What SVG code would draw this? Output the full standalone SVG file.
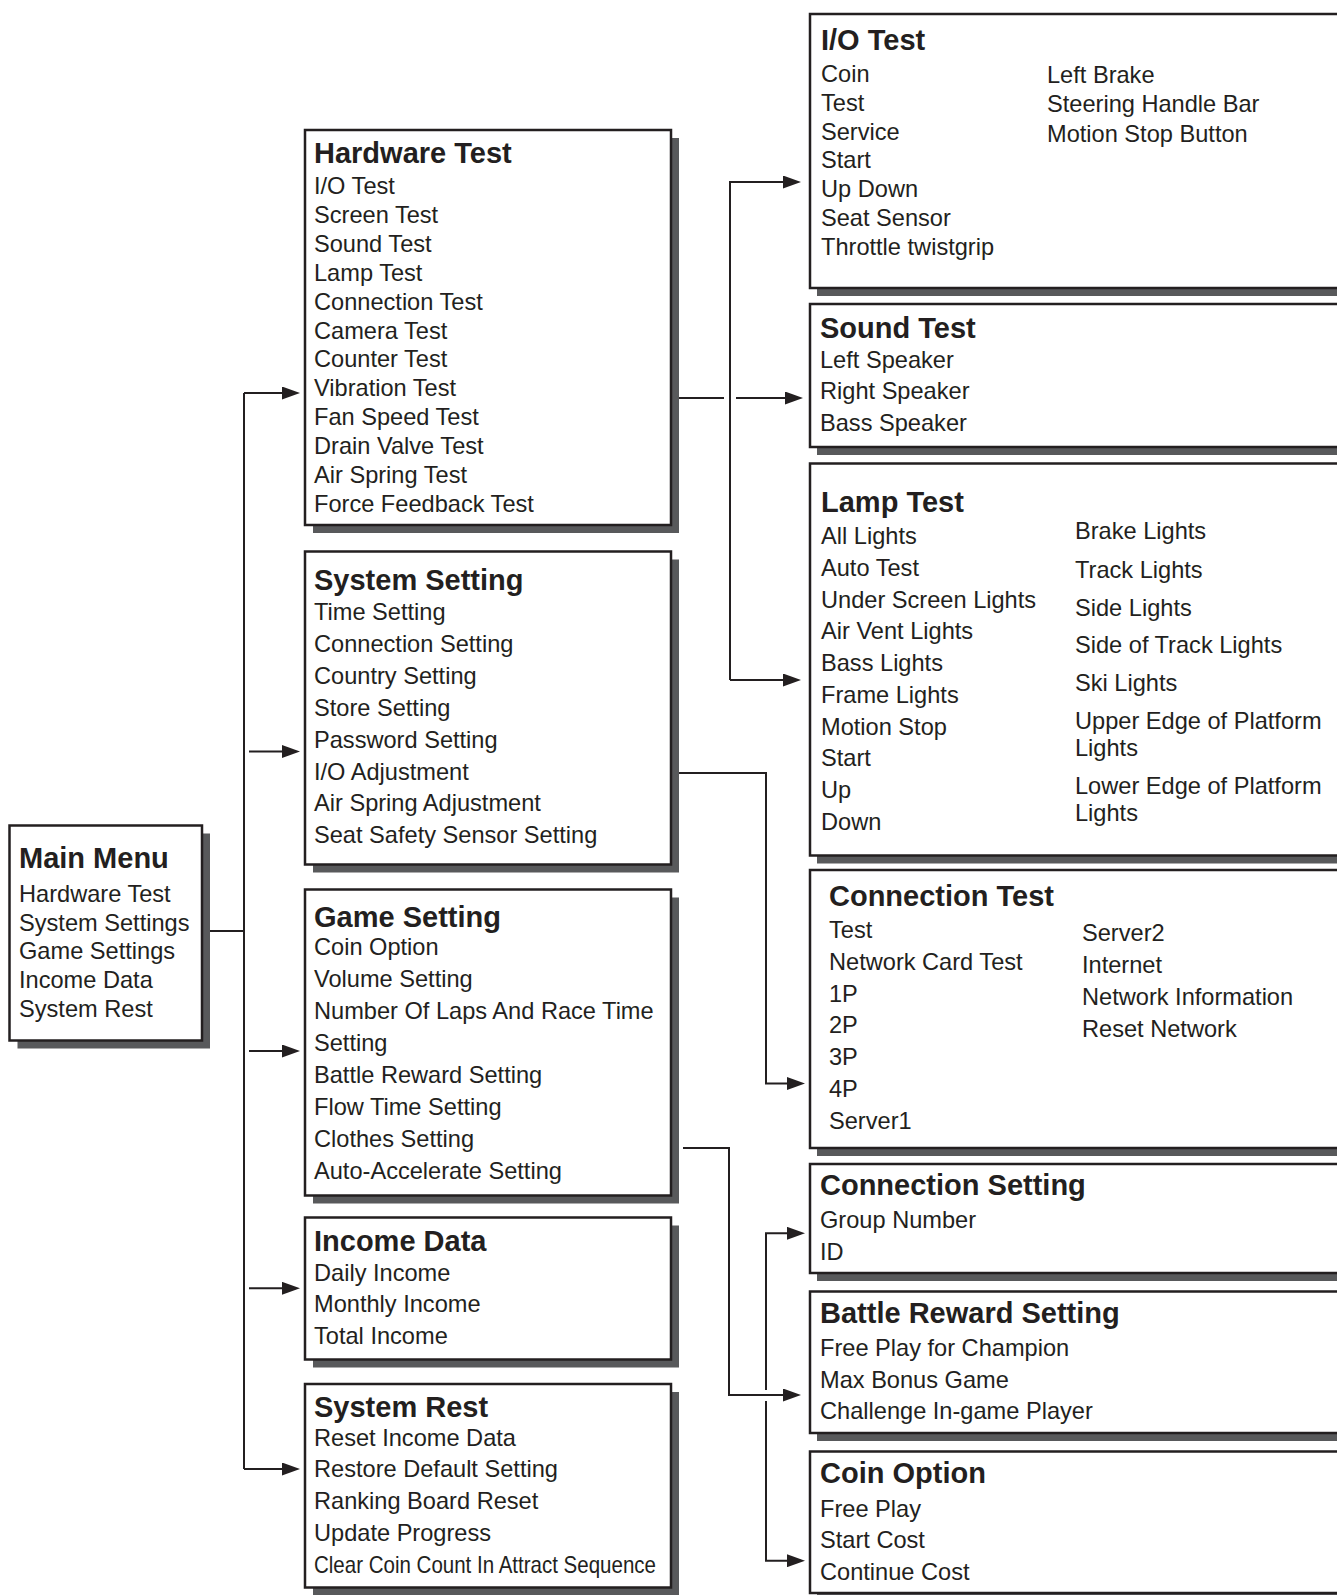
<svg xmlns="http://www.w3.org/2000/svg" width="1337" height="1595" viewBox="0 0 1337 1595">
<style>
.sh{fill:#58595b;stroke:none}
.bx{fill:#fff;stroke:#231f20;stroke-width:2.5}
.t{font-family:"Liberation Sans",Arial,sans-serif;font-size:29px;font-weight:bold;fill:#231f20}
.i{font-family:"Liberation Sans",Arial,sans-serif;font-size:23.6px;fill:#231f20}
.c{fill:none;stroke:#231f20;stroke-width:2}
.a{fill:none;stroke:#231f20;stroke-width:2;marker-end:url(#ah)}
</style>
<defs>
<marker id="ah" markerUnits="userSpaceOnUse" markerWidth="18" markerHeight="13" viewBox="0 0 18 13" refX="14" refY="6.5" orient="auto">
<path d="M0,0 L18,6.5 L0,13 z" fill="#231f20"/>
</marker>
</defs>
<rect width="1337" height="1595" fill="#fff"/>

<g id="connectors">
<path class="c" d="M202,931 H244"/>
<path class="c" d="M244,393 V1469"/>
<path class="a" d="M244,393 H296"/>
<path class="a" d="M249,751.5 H296"/>
<path class="a" d="M249,1051 H296"/>
<path class="a" d="M249,1288.3 H296"/>
<path class="a" d="M244,1469 H296"/>
<path class="c" d="M678,398 H724"/>
<path class="a" d="M736,398 H799"/>
<path class="a" d="M730,680 V182 H797"/>
<path class="a" d="M730,680 H797"/>
<path class="a" d="M670,773 H766 V1083.5 H801"/>
<circle cx="680" cy="1148" r="2.5" fill="#fff"/>
<path class="a" d="M683,1148 H729 V1395 H797"/>
<path class="a" d="M766,1390 V1233.3 H801"/>
<path class="a" d="M766,1401 V1560.7 H801"/>
</g>

<g id="main-menu">
<rect class="sh" x="17.5" y="833.5" width="192.5" height="215"/>
<rect class="bx" x="9.5" y="825.5" width="192.5" height="215"/>
<text class="t" x="19" y="868">Main Menu</text>
<text class="i" x="19" y="901.5">Hardware Test</text>
<text class="i" x="19" y="930.5">System Settings</text>
<text class="i" x="19" y="959">Game Settings</text>
<text class="i" x="19" y="988">Income Data</text>
<text class="i" x="19" y="1016.5">System Rest</text>
</g>

<g id="hardware-test">
<rect class="sh" x="313" y="138" width="366" height="395"/>
<rect class="bx" x="305" y="130" width="366" height="395"/>
<text class="t" x="314" y="162.5">Hardware Test</text>
<text class="i" x="314" y="194.3">I/O Test</text>
<text class="i" x="314" y="223.2">Screen Test</text>
<text class="i" x="314" y="252">Sound Test</text>
<text class="i" x="314" y="280.9">Lamp Test</text>
<text class="i" x="314" y="309.7">Connection Test</text>
<text class="i" x="314" y="338.6">Camera Test</text>
<text class="i" x="314" y="367.4">Counter Test</text>
<text class="i" x="314" y="396.3">Vibration Test</text>
<text class="i" x="314" y="425.1">Fan Speed Test</text>
<text class="i" x="314" y="454">Drain Valve Test</text>
<text class="i" x="314" y="482.8">Air Spring Test</text>
<text class="i" x="314" y="511.7">Force Feedback Test</text>
</g>

<g id="system-setting">
<rect class="sh" x="313" y="559.5" width="366" height="313"/>
<rect class="bx" x="305" y="551.5" width="366" height="313"/>
<text class="t" x="314" y="590">System Setting</text>
<text class="i" x="314" y="620">Time Setting</text>
<text class="i" x="314" y="651.9">Connection Setting</text>
<text class="i" x="314" y="683.8">Country Setting</text>
<text class="i" x="314" y="715.7">Store Setting</text>
<text class="i" x="314" y="747.6">Password Setting</text>
<text class="i" x="314" y="779.5">I/O Adjustment</text>
<text class="i" x="314" y="811.4">Air Spring Adjustment</text>
<text class="i" x="314" y="843.3">Seat Safety Sensor Setting</text>
</g>

<g id="game-setting">
<rect class="sh" x="313" y="897.5" width="366" height="306"/>
<rect class="bx" x="305" y="889.5" width="366" height="306"/>
<text class="t" x="314" y="926.7">Game Setting</text>
<text class="i" x="314" y="955">Coin Option</text>
<text class="i" x="314" y="987">Volume Setting</text>
<text class="i" x="314" y="1019">Number Of Laps And Race Time</text>
<text class="i" x="314" y="1051">Setting</text>
<text class="i" x="314" y="1083">Battle Reward Setting</text>
<text class="i" x="314" y="1115">Flow Time Setting</text>
<text class="i" x="314" y="1147">Clothes Setting</text>
<text class="i" x="314" y="1179">Auto-Accelerate Setting</text>
</g>

<g id="income-data">
<rect class="sh" x="313" y="1225.5" width="366" height="142"/>
<rect class="bx" x="305" y="1217.5" width="366" height="142"/>
<text class="t" x="314" y="1251">Income Data</text>
<text class="i" x="314" y="1280.7">Daily Income</text>
<text class="i" x="314" y="1312.3">Monthly Income</text>
<text class="i" x="314" y="1344.3">Total Income</text>
</g>

<g id="system-rest">
<rect class="sh" x="313" y="1392" width="366" height="203.5"/>
<rect class="bx" x="305" y="1384" width="366" height="203.5"/>
<text class="t" x="314" y="1416.7">System Rest</text>
<text class="i" x="314" y="1446">Reset Income Data</text>
<text class="i" x="314" y="1477.3">Restore Default Setting</text>
<text class="i" x="314" y="1509.3">Ranking Board Reset</text>
<text class="i" x="314" y="1541">Update Progress</text>
<text class="i" x="314" y="1573.3" textLength="342" lengthAdjust="spacingAndGlyphs">Clear Coin Count In Attract Sequence</text>
</g>

<g id="io-test">
<rect class="sh" x="817" y="22" width="560" height="274"/>
<rect class="bx" x="810" y="14" width="560" height="274"/>
<text class="t" x="821" y="50">I/O Test</text>
<text class="i" x="821" y="81.7">Coin</text>
<text class="i" x="821" y="110.6">Test</text>
<text class="i" x="821" y="139.5">Service</text>
<text class="i" x="821" y="168.4">Start</text>
<text class="i" x="821" y="197.3">Up Down</text>
<text class="i" x="821" y="226.2">Seat Sensor</text>
<text class="i" x="821" y="255">Throttle twistgrip</text>
<text class="i" x="1047" y="83.3">Left Brake</text>
<text class="i" x="1047" y="112.3">Steering Handle Bar</text>
<text class="i" x="1047" y="141.7">Motion Stop Button</text>
</g>

<g id="sound-test">
<rect class="sh" x="817" y="312" width="560" height="143"/>
<rect class="bx" x="810" y="304" width="560" height="143"/>
<text class="t" x="820" y="338.3">Sound Test</text>
<text class="i" x="820" y="367.7">Left Speaker</text>
<text class="i" x="820" y="399.3">Right Speaker</text>
<text class="i" x="820" y="431">Bass Speaker</text>
</g>

<g id="lamp-test">
<rect class="sh" x="817" y="471.5" width="560" height="392"/>
<rect class="bx" x="810" y="463.5" width="560" height="392"/>
<text class="t" x="821" y="511.7">Lamp Test</text>
<text class="i" x="821" y="544.3">All Lights</text>
<text class="i" x="821" y="576">Auto Test</text>
<text class="i" x="821" y="607.7">Under Screen Lights</text>
<text class="i" x="821" y="639.4">Air Vent Lights</text>
<text class="i" x="821" y="671.1">Bass Lights</text>
<text class="i" x="821" y="702.8">Frame Lights</text>
<text class="i" x="821" y="734.5">Motion Stop</text>
<text class="i" x="821" y="766.2">Start</text>
<text class="i" x="821" y="797.9">Up</text>
<text class="i" x="821" y="829.6">Down</text>
<text class="i" x="1075" y="539.3">Brake Lights</text>
<text class="i" x="1075" y="577.7">Track Lights</text>
<text class="i" x="1075" y="615.7">Side Lights</text>
<text class="i" x="1075" y="653.3">Side of Track Lights</text>
<text class="i" x="1075" y="690.7">Ski Lights</text>
<text class="i" x="1075" y="729.3">Upper Edge of Platform</text>
<text class="i" x="1075" y="755.5">Lights</text>
<text class="i" x="1075" y="794.3">Lower Edge of Platform</text>
<text class="i" x="1075" y="820.5">Lights</text>
</g>

<g id="connection-test">
<rect class="sh" x="817" y="878" width="560" height="278"/>
<rect class="bx" x="810" y="870" width="560" height="278"/>
<text class="t" x="829" y="906">Connection Test</text>
<text class="i" x="829" y="938.3">Test</text>
<text class="i" x="829" y="970">Network Card Test</text>
<text class="i" x="829" y="1001.7">1P</text>
<text class="i" x="829" y="1033.4">2P</text>
<text class="i" x="829" y="1065.1">3P</text>
<text class="i" x="829" y="1096.8">4P</text>
<text class="i" x="829" y="1128.5">Server1</text>
<text class="i" x="1082" y="941">Server2</text>
<text class="i" x="1082" y="972.7">Internet</text>
<text class="i" x="1082" y="1004.5">Network Information</text>
<text class="i" x="1082" y="1036.5">Reset Network</text>
</g>

<g id="connection-setting">
<rect class="sh" x="817" y="1172" width="560" height="109"/>
<rect class="bx" x="810" y="1164" width="560" height="109"/>
<text class="t" x="820" y="1195">Connection Setting</text>
<text class="i" x="820" y="1228.3">Group Number</text>
<text class="i" x="820" y="1260">ID</text>
</g>

<g id="battle-reward-setting">
<rect class="sh" x="817" y="1299.5" width="560" height="141.5"/>
<rect class="bx" x="810" y="1291.5" width="560" height="141.5"/>
<text class="t" x="820" y="1322.7">Battle Reward Setting</text>
<text class="i" x="820" y="1356">Free Play for Champion</text>
<text class="i" x="820" y="1387.5">Max Bonus Game</text>
<text class="i" x="820" y="1419">Challenge In-game Player</text>
</g>

<g id="coin-option">
<rect class="sh" x="817" y="1459.5" width="560" height="141.5"/>
<rect class="bx" x="810" y="1451.5" width="560" height="141.5"/>
<text class="t" x="820" y="1482.7">Coin Option</text>
<text class="i" x="820" y="1516.7">Free Play</text>
<text class="i" x="820" y="1548.3">Start Cost</text>
<text class="i" x="820" y="1580">Continue Cost</text>
</g>
</svg>
